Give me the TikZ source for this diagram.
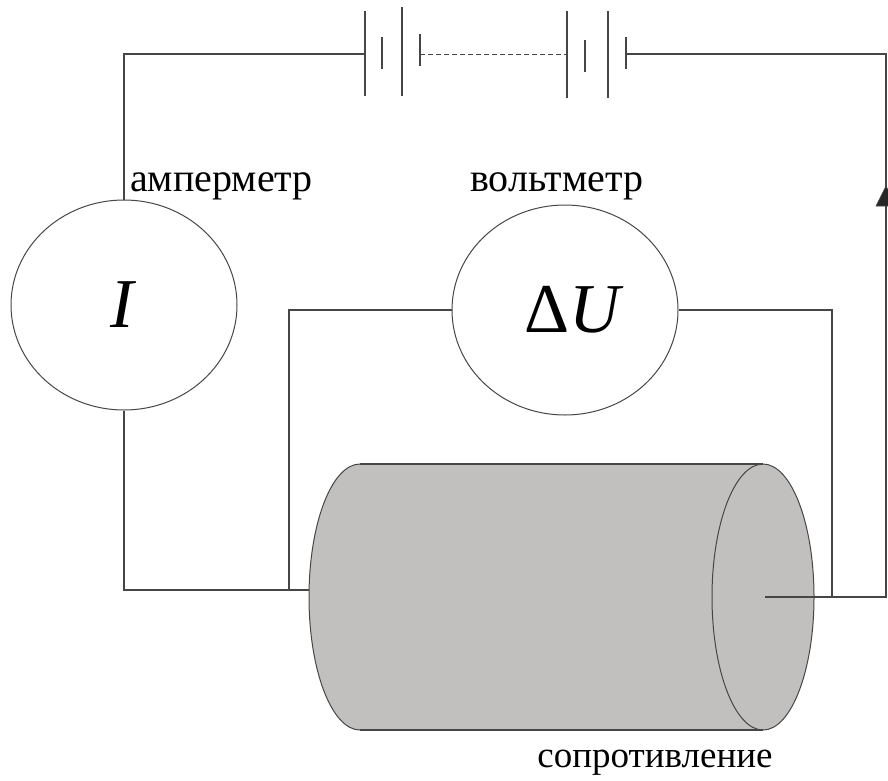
\documentclass[tikz,border=0pt]{standalone}
\usepackage{fontspec}
\setmainfont{Liberation Serif}
\usetikzlibrary{shapes.geometric,arrows.meta}
\definecolor{wirecol}{RGB}{70,70,70}
\definecolor{bodycol}{RGB}{193,192,190}
\begin{document}
\begin{tikzpicture}[x=1pt,y=-1pt,
  wire/.style={draw=wirecol,line width=1.1pt},
  meter/.style={ellipse,draw=wirecol,line width=1pt,minimum width=226pt,minimum height=210pt,inner sep=0pt,font=\fontsize{70}{80}\selectfont},
  lbl/.style={font=\fontsize{40}{46}\selectfont,inner sep=0pt},
  plate/.style={draw=wirecol,line width=1.4pt}]
\useasboundingbox (0,0) rectangle (888,780);

% cylinder (resistor body)
\fill[bodycol] (360,464) -- (763,464) arc[start angle=-90,end angle=90,x radius=51,y radius=133]
  -- (360,730) arc[start angle=90,end angle=270,x radius=51,y radius=133] -- cycle;
\draw[draw=wirecol,line width=1pt] (360,730) arc[start angle=90,end angle=270,x radius=51,y radius=133];
\draw[wire] (360,464) -- (763,464);
\draw[wire] (360,730) -- (763,730);
\draw[draw=wirecol,line width=1pt] (763,597) ellipse[x radius=51,y radius=133];

% meters
\node[meter] (A) at (124,305) {\textit{I}};
\node[meter] (V) at (565,310) {\hspace*{18pt}Δ\textit{U}};

% labels
\node[lbl,anchor=base west] (Alab) at (130,191) {амперметр};
\node[lbl,anchor=base west] (Vlab) at (470,191) {вольтметр};
\node[lbl,anchor=base,font=\fontsize{37}{42}\selectfont] (Rlab) at (655,767) {сопротивление};

% wiring points
\coordinate (tl) at (124,54);
\coordinate (bat1) at (365,54);
\coordinate (bat2) at (626,54);
\coordinate (tr) at (886,54);
\coordinate (br) at (886,597);
\coordinate (rc) at (765,597);
\coordinate (vr) at (832,310);
\coordinate (vrb) at (832,597);
\coordinate (vl) at (289,310);
\coordinate (vlb) at (289,590);
\coordinate (al) at (124,590);
\coordinate (cl) at (309,590);

% battery of cells
\draw[plate] (365,11) -- (365,96);
\draw[plate] (382,37) -- (382,69);
\draw[plate] (402,7) -- (402,96);
\draw[plate] (420,34) -- (420,66);
\draw[wire,dash pattern=on 5pt off 3pt,line width=1pt] (420,54) -- (567,54);
\draw[plate] (567,11) -- (567,98);
\draw[plate] (585,40) -- (585,72);
\draw[plate] (608,11) -- (608,98);
\draw[plate] (626,37) -- (626,69);

% circuit wires
\draw[wire] (A.north) -- (tl) -- (bat1);
\draw[wire] (bat2) -- (tr) -- (br) -- (rc);
\draw[wire] (A.south) -- (al) -- (cl);
\draw[wire] (V.west) -- (vl) -- (vlb);
\draw[wire] (V.east) -- (vr) -- (vrb);
\draw[draw=wirecol,fill=black!85,line width=0.6pt] (886,186) -- (876,206) -- (896,206) -- cycle;
\end{tikzpicture}
\end{document}
